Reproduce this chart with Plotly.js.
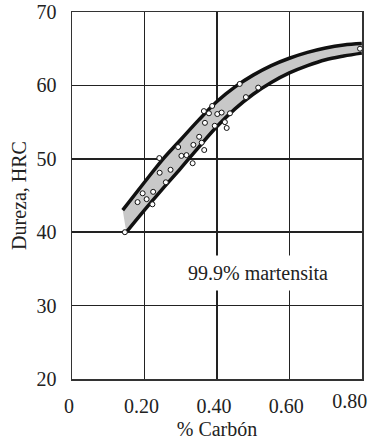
<!DOCTYPE html>
<html>
<head>
<meta charset="utf-8">
<script src="https://cdn.plot.ly/plotly-3.0.1.min.js"></script>
<style>html,body{margin:0;padding:0;background:#fff;}#chart{width:375px;height:443px;}</style>
</head>
<body>
<div id="chart"></div>
<script>
// Band limits (% carbon vs HRC)
const upperX = [0.14, 0.20, 0.25, 0.30, 0.35, 0.40, 0.45, 0.50, 0.55, 0.60, 0.65, 0.70, 0.75, 0.80];
const upperY = [43.0, 46.8, 49.9, 52.6, 55.3, 57.8, 59.8, 61.4, 62.7, 63.7, 64.5, 65.1, 65.5, 65.7];
const lowerX = [0.15, 0.20, 0.25, 0.30, 0.35, 0.40, 0.45, 0.50, 0.55, 0.60, 0.65, 0.70, 0.75, 0.80];
const lowerY = [40.0, 43.0, 45.9, 48.7, 51.6, 54.4, 56.8, 58.8, 60.4, 61.7, 62.7, 63.5, 64.0, 64.4];

// Measured points
const ptsX = [0.146, 0.181, 0.195, 0.206, 0.224, 0.222, 0.241, 0.242, 0.259, 0.272, 0.293, 0.302, 0.316, 0.333, 0.335, 0.351, 0.358, 0.364, 0.367, 0.365, 0.378, 0.387, 0.394, 0.401, 0.413, 0.422, 0.427, 0.436, 0.463, 0.480, 0.514, 0.795];
const ptsY = [40.0, 44.1, 45.3, 44.5, 45.5, 43.8, 50.1, 48.1, 46.8, 48.5, 51.6, 50.4, 50.5, 49.4, 51.9, 53.0, 52.2, 56.5, 54.9, 51.2, 56.2, 57.2, 54.5, 56.1, 56.3, 55.0, 54.2, 56.2, 60.2, 58.4, 59.7, 65.0];

const xTicks = [0, 0.2, 0.4, 0.6, 0.8];
const xTickText = ['0', '0.20', '0.40', '0.60', ''];
const xEndTick = [0.8];
const xEndText = ['0.80'];
const yTicks = [20, 30, 40, 50, 60, 70];

const serif = 'Liberation Serif, Times New Roman, serif';
const xRange = [0, 0.8005];

const traces = [
  {x: lowerX, y: lowerY, mode: 'lines', line: {color: '#111', width: 3.5, shape: 'spline'}, hoverinfo: 'skip'},
  {x: upperX, y: upperY, mode: 'lines', line: {color: '#111', width: 3.5, shape: 'spline'}, fill: 'tonexty', fillcolor: '#c8c8c8', hoverinfo: 'skip'},
  {x: ptsX, y: ptsY, xaxis: 'x2', mode: 'markers', marker: {symbol: 'circle', size: 5, color: '#fff', line: {color: '#111', width: 1}}}
];

const tickFont = {family: serif, size: 20, color: '#222'};

const layout = {
  width: 375, height: 443,
  margin: {l: 72, r: 13, t: 12, b: 64},
  paper_bgcolor: '#fff', plot_bgcolor: '#fff',
  showlegend: false,
  font: {family: serif, size: 20, color: '#222'},
  xaxis: {
    range: xRange, tickvals: xTicks, ticktext: xTickText,
    showgrid: true, gridcolor: '#222', gridwidth: 1.6,
    zeroline: false, showline: true, mirror: true, linecolor: '#333', linewidth: 1.5,
    ticks: '', ticklabelstandoff: 8, ticklabelshift: -3,
    tickfont: tickFont,
    title: {text: '% Carbón', font: {family: serif, size: 20, color: '#222'}, standoff: 6}
  },
  xaxis2: {
    overlaying: 'x', matches: 'x', range: xRange, side: 'bottom', anchor: 'y',
    tickvals: xEndTick, ticktext: xEndText,
    showgrid: false, zeroline: false, showline: false,
    ticks: '', ticklabelstandoff: 8, ticklabelshift: -12, ticklabeloverflow: 'allow',
    tickfont: tickFont
  },
  yaxis: {
    range: [20, 70.001], tickvals: yTicks,
    showgrid: true, gridcolor: '#222', gridwidth: 1.6,
    zeroline: false, showline: true, mirror: true, linecolor: '#333', linewidth: 1.5,
    ticks: '', ticklabelstandoff: 10,
    tickfont: tickFont,
    title: {text: 'Dureza, HRC', font: {family: serif, size: 20, color: '#222'}, standoff: 4}
  },
  annotations: [{
    x: 0.513, y: 34.4, xref: 'x', yref: 'y', showarrow: false,
    text: '99.9% martensita', bgcolor: '#fff', borderpad: 6,
    font: {family: serif, size: 20, color: '#222'}
  }]
};

Plotly.newPlot('chart', traces, layout, {displayModeBar: false, staticPlot: true});
</script>
</body>
</html>
